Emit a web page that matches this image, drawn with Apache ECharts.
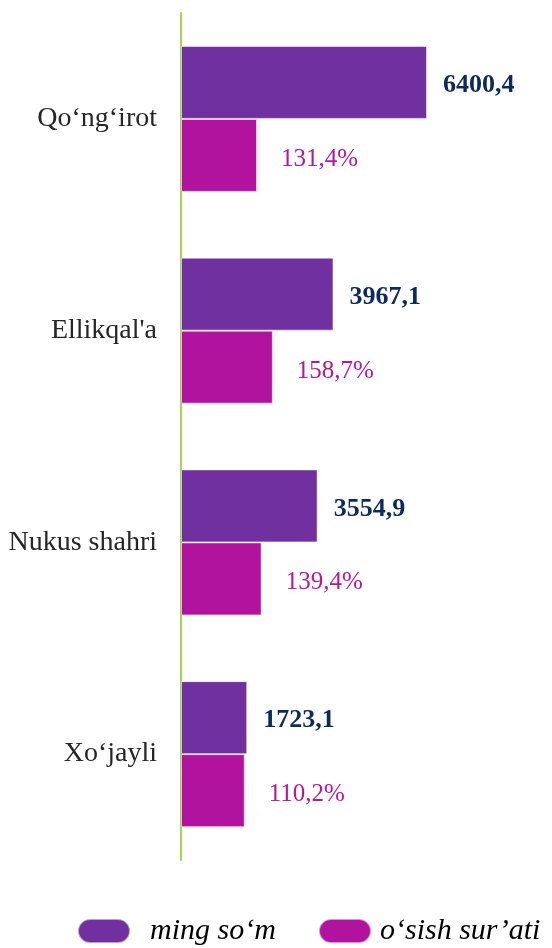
<!DOCTYPE html>
<html><head><meta charset="utf-8">
<script src="https://cdn.jsdelivr.net/npm/echarts@6/dist/echarts.min.js"></script>
<style>html,body{margin:0;padding:0;background:#fff}#c{width:552px;height:948px}</style>
</head><body><div id="c"></div>
<script>
const categories = ['Qo‘ng‘irot', "Ellikqal'a", 'Nukus shahri', 'Xo‘jayli'];
const mingSom = [6400.4, 3967.1, 3554.9, 1723.1];
const osishSurati = [131.4, 158.7, 139.4, 110.2];
const seriesNames = ['ming so‘m', 'o‘sish sur’ati'];

const fmt = v => v.toFixed(1).replace('.', ',');
const serif = '"Liberation Serif", "Times New Roman", serif';
const pill = 'path://M12,0 H40 A12,12 0 0 1 40,24 H12 A12,12 0 0 1 12,0 Z';
const legendText = { fontFamily: serif, fontSize: 30, fontStyle: 'italic', color: '#000', padding: [0, 0, 0, 15] };

const chart = echarts.init(document.getElementById('c'));
chart.setOption({
  animation: false,
  grid: { left: 181, right: 21, top: 13, bottom: 88, containLabel: false },
  xAxis: [
    { type: 'value', min: 0, max: 9106, show: false },
    { type: 'value', min: 0, max: 605, show: false }
  ],
  yAxis: {
    type: 'category', data: categories, inverse: true,
    axisLine: { show: true, lineStyle: { color: '#a9d44e', width: 2 } },
    axisTick: { show: false },
    axisLabel: { fontFamily: serif, fontSize: 28, color: '#262626', margin: 24, padding: [8, 0, 0, 0] }
  },
  legend: [
    { left: 77, top: 916, padding: 0, itemWidth: 52, itemHeight: 24,
      data: [{ name: seriesNames[0], icon: pill }], textStyle: legendText },
    { left: 318, top: 916, padding: 0, itemWidth: 52, itemHeight: 24,
      data: [{ name: seriesNames[1], icon: pill }], textStyle: Object.assign({}, legendText, { padding: [0, 0, 0, 4] }) }
  ],
  series: [
    {
      name: seriesNames[0], type: 'bar', xAxisIndex: 0, data: mingSom,
      barWidth: 73, barGap: '0%', barCategoryGap: '31%',
      itemStyle: { color: '#70309f', borderColor: 'rgba(255,255,255,0.55)', borderWidth: 1 },
      label: { show: true, position: 'right', distance: 16, offset: [0, 3], formatter: p => fmt(p.value),
        fontFamily: serif, fontSize: 26, fontWeight: 'bold', color: '#0d2a5f' }
    },
    {
      name: seriesNames[1], type: 'bar', xAxisIndex: 1, data: osishSurati,
      barWidth: 73, barGap: '0%', barCategoryGap: '31%',
      itemStyle: { color: '#b1139e', borderColor: 'rgba(255,255,255,0.55)', borderWidth: 1 },
      label: { show: true, position: 'right', distance: 24, offset: [0, 4], formatter: p => fmt(p.value) + '%',
        fontFamily: serif, fontSize: 25, color: '#b5179e' }
    }
  ]
});
</script></body></html>
